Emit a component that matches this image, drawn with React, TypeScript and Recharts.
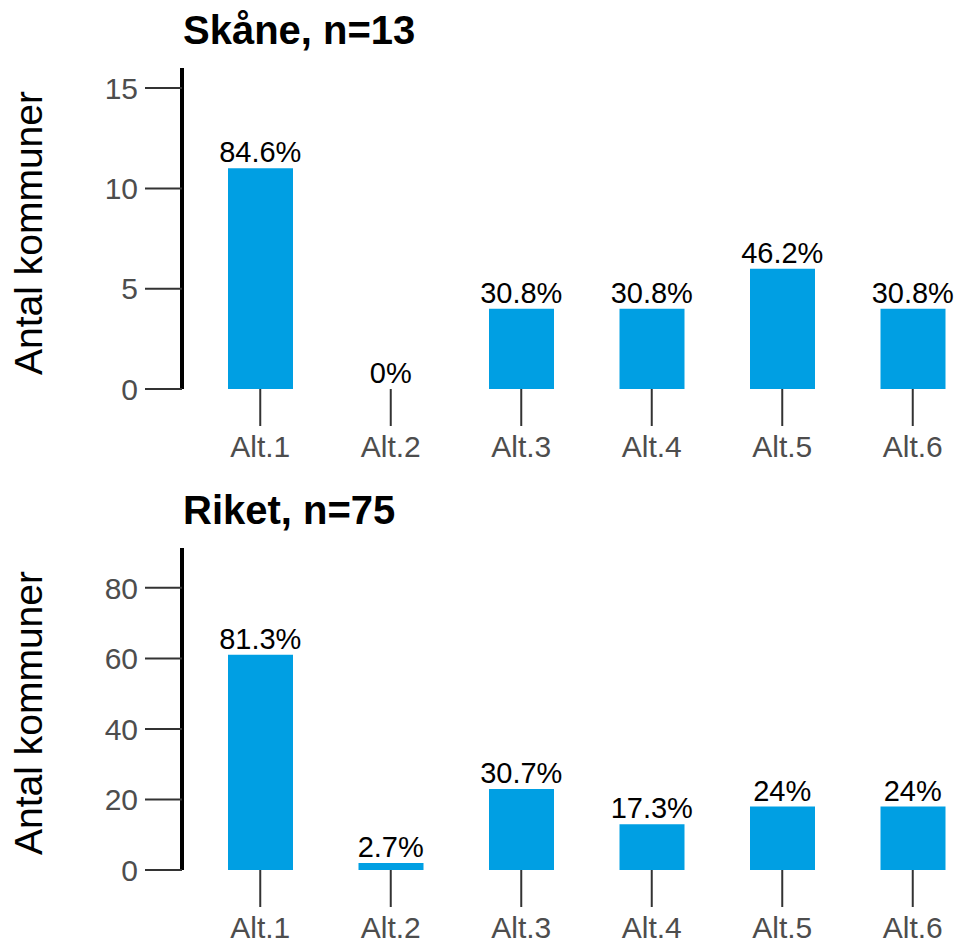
import { Bar, ComposedChart, LabelList, Line, XAxis, YAxis } from "recharts";

const categories = ["Alt.1", "Alt.2", "Alt.3", "Alt.4", "Alt.5", "Alt.6"];

const skaneCounts = [11, 0, 4, 4, 6, 4];
const skaneLabels = ["84.6%", "0%", "30.8%", "30.8%", "46.2%", "30.8%"];
const skaneTicks = [0, 5, 10, 15];

const riketCounts = [61, 2, 23, 13, 18, 18];
const riketLabels = ["81.3%", "2.7%", "30.7%", "17.3%", "24%", "24%"];
const riketTicks = [0, 20, 40, 60, 80];

const FONT = '"Liberation Sans", Arial, sans-serif';
const BAR_COLOR = "#009FE3";

interface PanelProps {
  title: string;
  counts: number[];
  labels: string[];
  ticks: number[];
  yMax: number;
  top: number;
  plotHeight: number;
}

function Panel({ title, counts, labels, ticks, yMax, top, plotHeight }: PanelProps) {
  const data = categories.map((cat, i) => ({
    cat,
    count: counts[i],
    label: labels[i],
  }));
  const marginTop = 68;
  const height = marginTop + plotHeight + 80;

  return (
    <div style={{ position: "absolute", left: 0, top, width: 978, height }}>
      <div
        style={{
          position: "absolute",
          left: 183,
          top: 10,
          fontFamily: FONT,
          fontWeight: "bold",
          fontSize: 40,
          lineHeight: "40px",
          whiteSpace: "nowrap",
          color: "#000",
        }}
      >
        {title}
      </div>
      <div
        style={{
          position: "absolute",
          left: 29,
          top: marginTop + plotHeight / 2 + 4,
          transform: "translate(-50%, -50%) rotate(-90deg)",
          fontFamily: FONT,
          fontSize: 39,
          whiteSpace: "nowrap",
          color: "#000",
        }}
      >
        Antal kommuner
      </div>
      <ComposedChart
        width={978}
        height={height}
        data={data}
        margin={{ top: marginTop, right: 0, left: 0, bottom: 0 }}
        style={{ fontFamily: FONT }}
      >
        <XAxis
          dataKey="cat"
          axisLine={false}
          tickLine={{ stroke: "#333333", strokeWidth: 2 }}
          tickSize={37}
          tickMargin={10}
          tick={{ fill: "#4D4D4D", fontSize: 30 }}
          padding={{ left: 13, right: 0 }}
          height={80}
          interval={0}
        />
        <YAxis
          type="number"
          domain={[0, yMax]}
          ticks={ticks}
          width={182}
          axisLine={{ stroke: "#000000", strokeWidth: 4 }}
          tickLine={{ stroke: "#333333", strokeWidth: 2 }}
          tickSize={37}
          tickMargin={7}
          tick={{ fill: "#4D4D4D", fontSize: 30 }}
        />
        <Bar dataKey="count" fill={BAR_COLOR} barSize={65} isAnimationActive={false} />
        <Line
          dataKey="count"
          stroke="none"
          dot={false}
          activeDot={false}
          isAnimationActive={false}
        >
          <LabelList
            dataKey="label"
            position="top"
            offset={6}
            fill="#000000"
            fontSize={29}
          />
        </Line>
      </ComposedChart>
    </div>
  );
}

export default function App() {
  return (
    <div
      style={{
        position: "absolute",
        left: 0,
        top: 0,
        width: 955,
        height: 943,
        overflow: "hidden",
        background: "#fff",
      }}
    >
      <Panel
        title="Skåne, n=13"
        counts={skaneCounts}
        labels={skaneLabels}
        ticks={skaneTicks}
        yMax={16}
        top={0}
        plotHeight={321}
      />
      <Panel
        title="Riket, n=75"
        counts={riketCounts}
        labels={riketLabels}
        ticks={riketTicks}
        yMax={91.3}
        top={480}
        plotHeight={322}
      />
    </div>
  );
}
